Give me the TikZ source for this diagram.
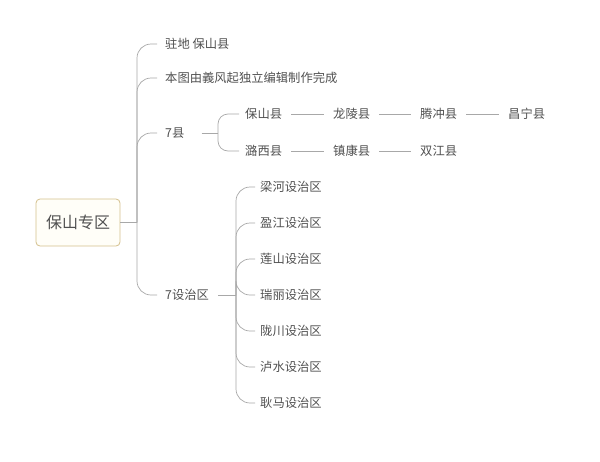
\documentclass[tikz,border=0pt]{standalone}
\usepackage{fontspec}
\setmainfont{Noto Sans CJK SC}
\usetikzlibrary{positioning,calc}
\definecolor{txtgray}{HTML}{505050}
\definecolor{linegray}{HTML}{A8A8A8}
\definecolor{rootborder}{HTML}{D4C08C}
\definecolor{rootfill}{HTML}{FFFEF8}

\begin{document}
\begin{tikzpicture}[
    x=1pt, y=-1pt,
    root/.style={rectangle, draw=rootborder, fill=rootfill, rounded corners=4pt, line width=0.8pt,
                 minimum width=84pt, minimum height=47pt, text=txtgray, font=\fontsize{16}{18}\selectfont},
    topic/.style={anchor=west, inner sep=3pt, text=txtgray, font=\fontsize{12.3}{14}\selectfont},
    link/.style={draw=linegray, line width=0.7pt},
    branch/.style={link, rounded corners=14pt}
]
\useasboundingbox (0,0) rectangle (600,461);

% Root
\node[root] (baoshan) at (78,222.5) {保山专区};
\coordinate (rootfork) at (137,222.5);

% Main topics
\node[topic] (seat) at (162,44) {驻地 保山县};
\node[topic] (note) at (162,78) {本图由義风起独立编辑制作完成};
\node[topic] (xian) at (162,133) {7县};
\node[topic] (shezhi) at (162,295) {7设治区};

% Counties
\node[topic] (bsx) at (242,114) {保山县};
\node[topic] (llx) at (330,114) {龙陵县};
\node[topic] (tcx) at (417,114) {腾冲县};
\node[topic] (cnx) at (505,114) {昌宁县};
\node[topic] (lxx) at (242,151) {潞西县};
\node[topic] (zkx) at (330,151) {镇康县};
\node[topic] (sjx) at (417,151) {双江县};
\coordinate (xianfork) at (218,133);

% Settlement bureaus
\foreach \name [count=\i] in {梁河,盈江,莲山,瑞丽,陇川,泸水,耿马}
    \node[topic] (sq\i) at (257,{151+36*\i}) {\name 设治区};
\coordinate (shezhifork) at (236,295);

% Arrows - Root
\draw[link] (baoshan) -- (rootfork);
\foreach \t in {seat,note,xian,shezhi}
    \draw[branch, shorten >=5pt] (rootfork) |- (\t.west);

% Arrows - Counties
\draw[link, shorten <=14pt] (xian.east) -- (xianfork);
\draw[branch, rounded corners=10pt, shorten >=3pt] (xianfork) |- (bsx.west);
\draw[branch, rounded corners=10pt, shorten >=3pt] (xianfork) |- (lxx.west);
\draw[link, shorten <=6pt, shorten >=6pt] (bsx) -- (llx);
\draw[link, shorten <=6pt, shorten >=6pt] (llx) -- (tcx);
\draw[link, shorten <=6pt, shorten >=6pt] (tcx) -- (cnx);
\draw[link, shorten <=6pt, shorten >=6pt] (lxx) -- (zkx);
\draw[link, shorten <=6pt, shorten >=6pt] (zkx) -- (sjx);

% Arrows - Settlement bureaus
\draw[link, shorten <=6pt] (shezhi.east) -- (shezhifork);
\foreach \i in {1,...,7}
    \draw[branch, shorten >=2pt] (shezhifork) |- (sq\i.west);

\end{tikzpicture}
\end{document}
